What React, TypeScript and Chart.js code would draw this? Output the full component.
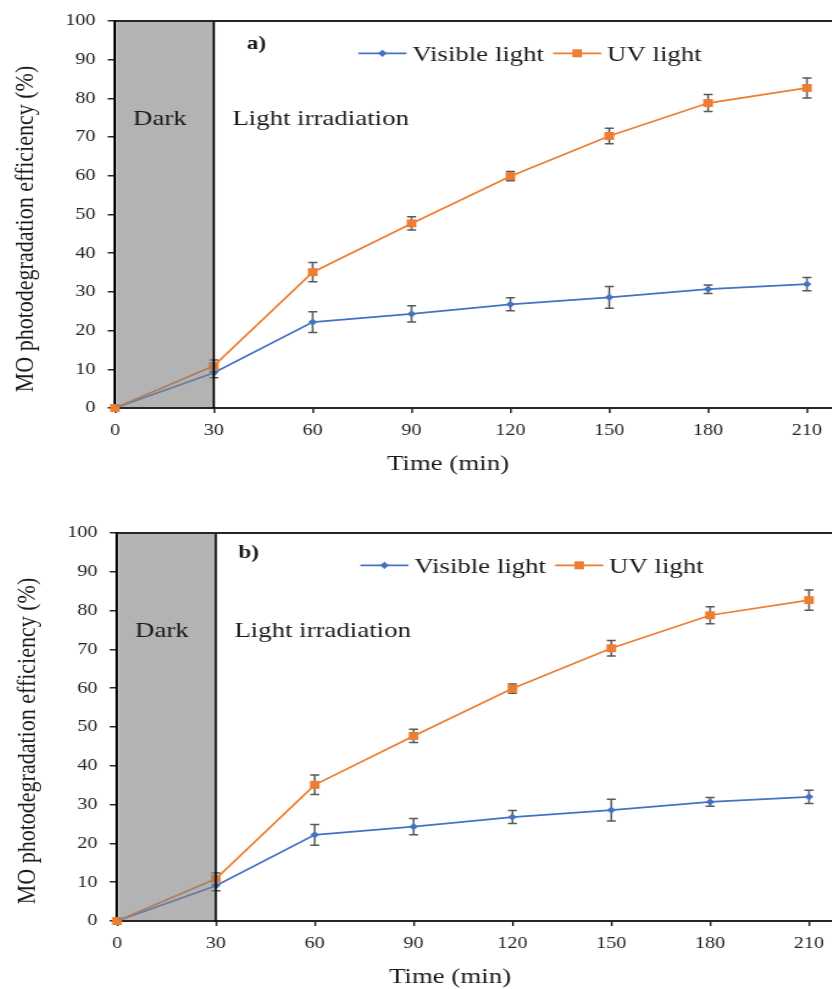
import React, { useEffect, useRef } from 'react';
import { Chart, registerables } from 'chart.js';

Chart.register(...registerables);

// ---------------- data ----------------
const times = [0, 30, 60, 90, 120, 150, 180, 210];
const visibleLight = [0, 9.1, 22.2, 24.3, 26.8, 28.6, 30.7, 32.0];
const visibleErr = [0, 1.3, 2.7, 2.1, 1.7, 2.8, 1.1, 1.7];
const uvLight = [0, 10.9, 35.1, 47.7, 59.9, 70.3, 78.8, 82.7];
const uvErr = [0, 1.5, 2.5, 1.7, 1.2, 2.0, 2.2, 2.6];
const xTickValues = [0, 30, 60, 90, 120, 150, 180, 210];
const yTickValues = [0, 10, 20, 30, 40, 50, 60, 70, 80, 90, 100];
const seriesNames = ['Visible light', 'UV light'];
const darkPhaseEnd = 30;
const xTitle = 'Time (min)';
const yTitle = 'MO photodegradation efficiency (%)';
const darkLabel = 'Dark';
const lightLabel = 'Light irradiation';

// ---------------- style ----------------
const S = 1.22; // horizontal stretch of the original figure
const W = Math.ceil(832 / S);
const FONT = "'Liberation Serif', 'Times New Roman', serif";
const BLUE = '#4472C4';
const ORANGE = '#ED7D31';
const AXIS = '#262626';
const TEXT = '#1a1a1a';
const ERR = '#595959';
const PLOT_LEFT = 115 / S;
const TICK210 = 807 / S;
const PLOT_TOP = 21;

Chart.defaults.font.family = FONT;

function drawMarker(ctx: CanvasRenderingContext2D, style: string, x: number, y: number, r: number, color: string) {
  ctx.save();
  ctx.fillStyle = color;
  ctx.beginPath();
  if (style === 'rectRot') {
    ctx.moveTo(x - r, y);
    ctx.lineTo(x, y - r);
    ctx.lineTo(x + r, y);
    ctx.lineTo(x, y + r);
    ctx.closePath();
  } else {
    const s = Math.SQRT1_2 * r;
    ctx.rect(x - s, y - s, 2 * s, 2 * s);
  }
  ctx.fill();
  ctx.restore();
}

type PanelProps = {
  height: number;
  plotBottom: number;
  tag: string;
  tagX: number;
  tagY: number;
  xTitleY: number;
};

function Panel({ height, plotBottom, tag, tagX, tagY, xTitleY }: PanelProps) {
  const ref = useRef<HTMLCanvasElement | null>(null);

  useEffect(() => {
    if (!ref.current) return;
    const errorSets = [visibleErr, uvErr];

    const decor = {
      id: 'decor',
      beforeDatasetsDraw(chart: any) {
        const { ctx } = chart;
        const xs = chart.scales.x;
        const ys = chart.scales.y;
        ctx.save();
        ctx.strokeStyle = ERR;
        ctx.lineWidth = 1.5;
        chart.data.datasets.forEach((ds: any, di: number) => {
          const errs = errorSets[di];
          ds.data.forEach((p: any, i: number) => {
            const e = errs[i];
            if (!e) return;
            const px = xs.getPixelForValue(p.x);
            const y1 = ys.getPixelForValue(p.y + e);
            const y2 = ys.getPixelForValue(p.y - e);
            const cap = 3.7;
            ctx.beginPath();
            ctx.moveTo(px, y1);
            ctx.lineTo(px, y2);
            ctx.moveTo(px - cap, y1);
            ctx.lineTo(px + cap, y1);
            ctx.moveTo(px - cap, y2);
            ctx.lineTo(px + cap, y2);
            ctx.stroke();
          });
        });
        ctx.restore();
      },
      afterDatasetsDraw(chart: any) {
        const { ctx, chartArea } = chart;
        const xs = chart.scales.x;
        const x0 = xs.getPixelForValue(0);
        const x30 = xs.getPixelForValue(darkPhaseEnd);
        ctx.save();
        // dark phase shading
        ctx.fillStyle = 'rgba(128,128,128,0.6)';
        ctx.fillRect(x0 + 1, chartArea.top + 1, x30 - x0 - 1, chartArea.bottom - chartArea.top - 2);
        // boundary line at end of dark phase
        ctx.strokeStyle = '#000';
        ctx.lineWidth = 1.8;
        ctx.beginPath();
        ctx.moveTo(x30, chartArea.top);
        ctx.lineTo(x30, chartArea.bottom);
        ctx.stroke();
        // top frame line
        ctx.strokeStyle = AXIS;
        ctx.lineWidth = 2;
        ctx.beginPath();
        ctx.moveTo(chartArea.left, chartArea.top);
        ctx.lineTo(chart.width, chartArea.top);
        ctx.stroke();
        ctx.restore();
      },
      afterDraw(chart: any) {
        const { ctx } = chart;
        ctx.save();
        ctx.fillStyle = TEXT;
        ctx.textBaseline = 'alphabetic';
        ctx.textAlign = 'left';
        ctx.font = `22px ${FONT}`;
        ctx.fillText(darkLabel, 109, 125);
        ctx.fillText(lightLabel, 190.4, 125);
        ctx.font = `bold 19px ${FONT}`;
        ctx.fillText(tag, tagX, tagY);

        // legend
        const styles = ['rectRot', 'rect'];
        const colors = [BLUE, ORANGE];
        const radii = [3.6, 5.6];
        let lx = 293.7;
        const ly = 53.3;
        ctx.font = `22px ${FONT}`;
        seriesNames.forEach((name, i) => {
          ctx.strokeStyle = colors[i];
          ctx.lineWidth = 1.75;
          ctx.beginPath();
          ctx.moveTo(lx, ly);
          ctx.lineTo(lx + 39.5, ly);
          ctx.stroke();
          drawMarker(ctx, styles[i], lx + 19.75, ly, radii[i], colors[i]);
          lx += 39.5 + 4.7;
          ctx.fillStyle = TEXT;
          ctx.fillText(name, lx, 60.5);
          lx += ctx.measureText(name).width + 7.4;
        });

        // axis titles
        ctx.font = `22px ${FONT}`;
        ctx.textAlign = 'center';
        ctx.textBaseline = 'middle';
        ctx.fillText(xTitle, 367.2, xTitleY);
        ctx.translate(20.9, 229);
        ctx.rotate(-Math.PI / 2);
        ctx.fillText(yTitle, 0, 0);
        ctx.restore();
      },
    };

    const xMax = ((W - PLOT_LEFT) * 210) / (TICK210 - PLOT_LEFT);

    const chart = new Chart(ref.current, {
      type: 'line',
      data: {
        datasets: [
          {
            label: seriesNames[0],
            data: times.map((t, i) => ({ x: t, y: visibleLight[i] })),
            borderColor: BLUE,
            backgroundColor: BLUE,
            pointBackgroundColor: BLUE,
            pointBorderWidth: 0,
            pointStyle: 'rectRot',
            pointRadius: 3.6,
            borderWidth: 1.75,
            tension: 0,
            clip: false as any,
            order: 1,
          },
          {
            label: seriesNames[1],
            data: times.map((t, i) => ({ x: t, y: uvLight[i] })),
            borderColor: ORANGE,
            backgroundColor: ORANGE,
            pointBackgroundColor: ORANGE,
            pointBorderWidth: 0,
            pointStyle: 'rect',
            pointRadius: 5.6,
            borderWidth: 1.75,
            tension: 0,
            clip: false as any,
            order: 0,
          },
        ],
      },
      options: {
        animation: false,
        responsive: false,
        devicePixelRatio: 1,
        layout: { autoPadding: false, padding: { top: PLOT_TOP, left: 0, right: 0, bottom: 0 } },
        plugins: { legend: { display: false }, tooltip: { enabled: false } },
        scales: {
          x: {
            type: 'linear',
            min: 0,
            max: xMax,
            afterBuildTicks: (s: any) => {
              s.ticks = xTickValues.map((v) => ({ value: v }));
            },
            ticks: {
              color: '#262626',
              font: { size: 16.5, family: FONT },
              padding: 8,
              maxRotation: 0,
              autoSkip: false,
              includeBounds: false,
            },
            grid: { drawOnChartArea: false, drawTicks: true, tickLength: 5, color: AXIS, lineWidth: 1.5 },
            border: { color: AXIS, width: 2 },
            afterFit: (s: any) => {
              s.height = height - plotBottom;
              s.paddingLeft = 0;
              s.paddingRight = 0;
            },
          },
          y: {
            type: 'linear',
            min: 0,
            max: 100,
            afterBuildTicks: (s: any) => {
              s.ticks = yTickValues.map((v) => ({ value: v }));
            },
            ticks: {
              color: '#262626',
              font: { size: 16.5, family: FONT },
              padding: 10,
              autoSkip: false,
            },
            grid: { drawOnChartArea: false, drawTicks: true, tickLength: 6, color: AXIS, lineWidth: 1.5 },
            border: { color: '#000', width: 2 },
            afterFit: (s: any) => {
              s.width = PLOT_LEFT;
            },
          },
        },
      },
      plugins: [decor],
    } as any);

    return () => chart.destroy();
  }, [height, plotBottom, tag, tagX, tagY, xTitleY]);

  return <canvas ref={ref} width={W} height={height} style={{ display: 'block', width: W, height }} />;
}

export default function App() {
  return (
    <div style={{ position: 'absolute', left: 0, top: 0, width: 832, height: 989, overflow: 'hidden', background: '#fff' }}>
      <div style={{ position: 'absolute', left: 0, top: 0, width: W, transform: `scaleX(${S})`, transformOrigin: '0 0' }}>
        <Panel height={490} plotBottom={408} tag="a)" tagX={202.2} tagY={49.3} xTitleY={464} />
      </div>
      <div style={{ position: 'absolute', left: 2, top: 512, width: W, transform: `scaleX(${S})`, transformOrigin: '0 0' }}>
        <Panel height={477} plotBottom={409} tag="b)" tagX={193.7} tagY={46.3} xTitleY={465.7} />
      </div>
    </div>
  );
}
